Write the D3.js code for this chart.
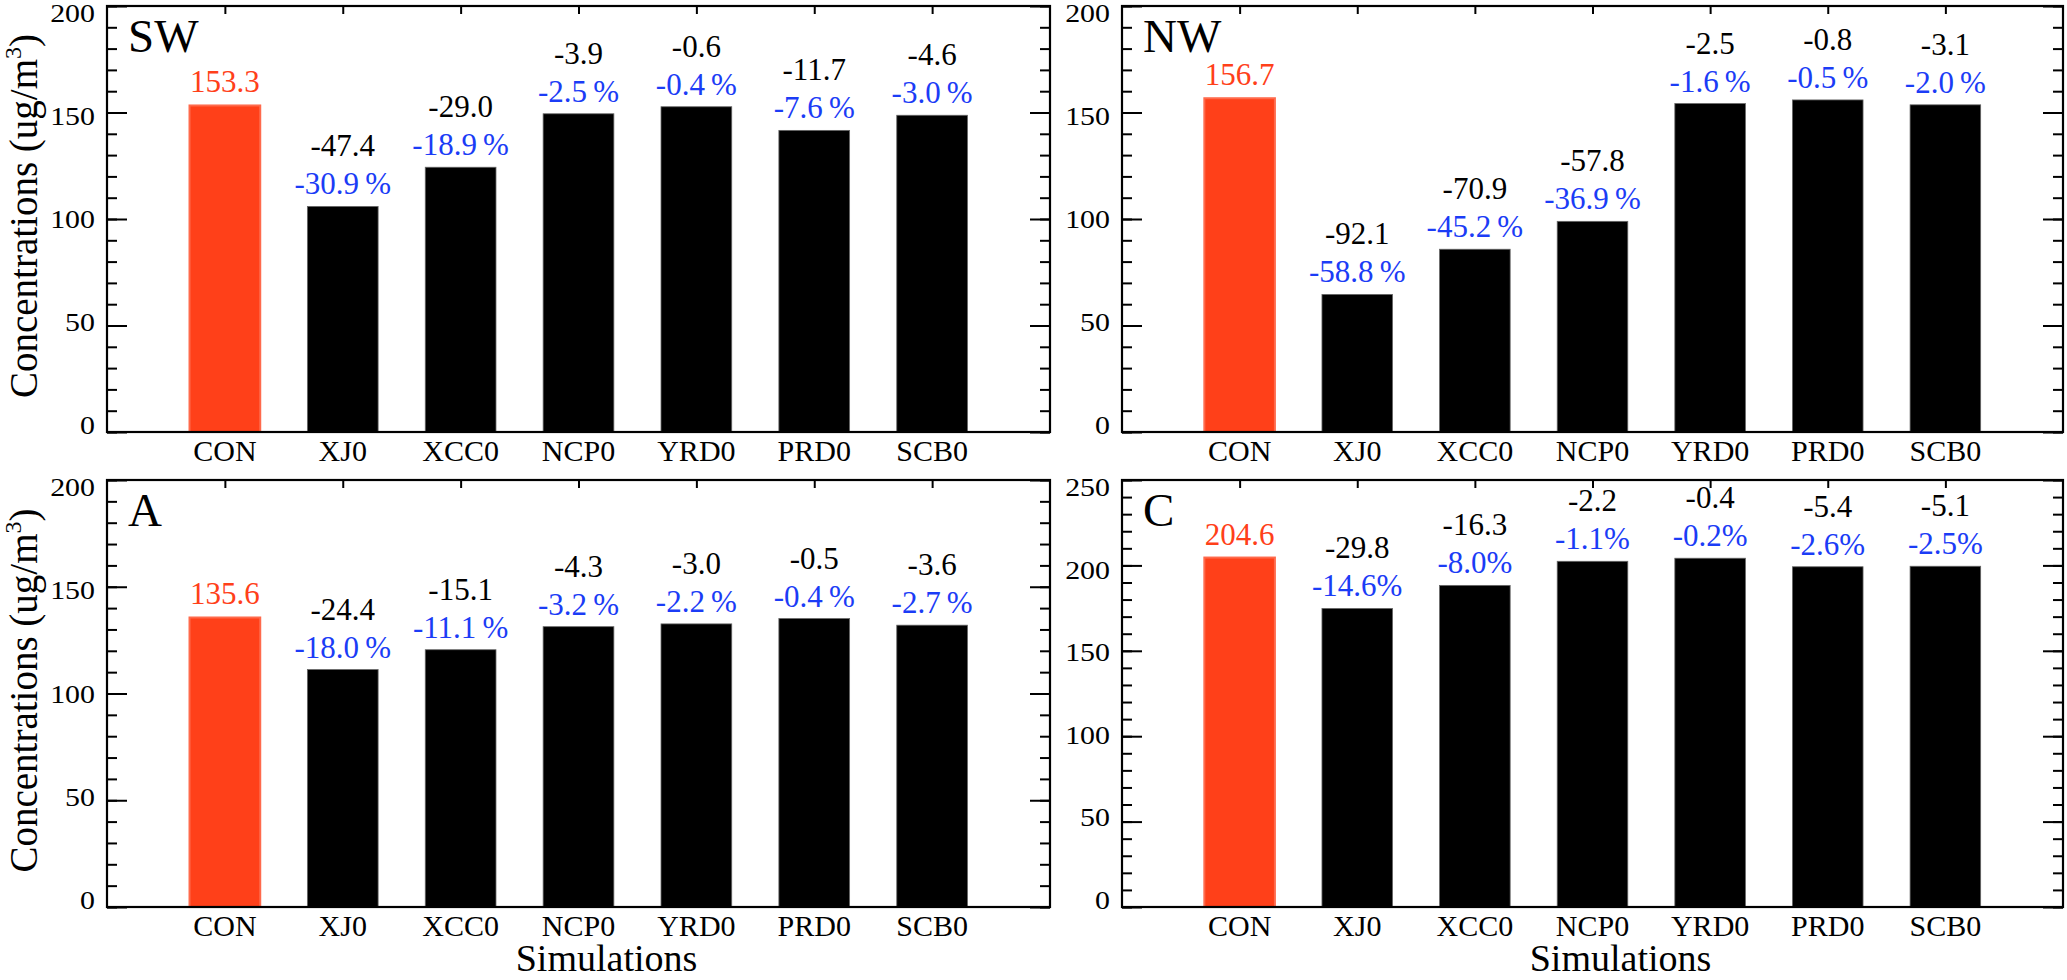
<!DOCTYPE html>
<html>
<head>
<meta charset="utf-8">
<script src="https://cdn.jsdelivr.net/npm/d3@7"></script>
<style>
  html, body { margin: 0; padding: 0; background: #fff; }
  svg { display: block; }
  text { font-family: "Liberation Serif", "Times New Roman", serif; }
</style>
</head>
<body>
<svg id="chart" width="2067" height="980"></svg>
<script>
// simulations on the x axis
const categories = ["CON", "XJ0", "XCC0", "NCP0", "YRD0", "PRD0", "SCB0"];

// bar heights (ug/m3)
const swValues = [153.3, 105.9, 124.3, 149.4, 152.7, 141.6, 148.7];
const nwValues = [156.7, 64.6, 85.8, 98.9, 154.2, 155.9, 153.6];
const aValues  = [135.6, 111.2, 120.5, 131.3, 132.6, 135.1, 132.0];
const cValues  = [204.6, 174.8, 188.3, 202.4, 204.2, 199.2, 199.5];

// changes vs CON, printed above bars
const swDiff = ["-47.4", "-29.0", "-3.9", "-0.6", "-11.7", "-4.6"];
const nwDiff = ["-92.1", "-70.9", "-57.8", "-2.5", "-0.8", "-3.1"];
const aDiff  = ["-24.4", "-15.1", "-4.3", "-3.0", "-0.5", "-3.6"];
const cDiff  = ["-29.8", "-16.3", "-2.2", "-0.4", "-5.4", "-5.1"];

const swPct = ["-30.9", "-18.9", "-2.5", "-0.4", "-7.6", "-3.0"];
const nwPct = ["-58.8", "-45.2", "-36.9", "-1.6", "-0.5", "-2.0"];
const aPct  = ["-18.0", "-11.1", "-3.2", "-2.2", "-0.4", "-2.7"];
const cPct  = ["-14.6", "-8.0", "-1.1", "-0.2", "-2.6", "-2.5"];

// y axis tick labels
const yTicks200 = [0, 50, 100, 150, 200];
const yTicks250 = [0, 50, 100, 150, 200, 250];

const RED = "#ff4019";
const BLUE = "#1b3cf6";
const svg = d3.select("#chart");

function drawPanel(p) {
    const g = svg.append("g");
    const yMax = d3.max(p.ticks);
    const x = d3.scaleLinear().domain([0, categories.length + 1]).range([p.left, p.right]);
    const y = d3.scaleLinear().domain([0, yMax]).range([p.bottom, p.top]);
    // the tick labels sit a little tighter than the ticks in the original
    const yLab = d3.scaleLinear().domain([0, yMax]).range([p.bottom - 7, p.top + 7]);
    const minor = d3.range(0, yMax + 1, 10);
    const catPos = categories.map((c, i) => i + 1);

    // bottom ticks (hidden behind bars mostly)
    g.append("g").attr("transform", `translate(0,${p.bottom})`)
        .call(d3.axisBottom(x).tickValues(catPos).tickSize(-8).tickSizeOuter(0).tickFormat(""));

    // bars
    const bw = x(0.6) - x(0);
    g.selectAll("rect.bar").data(p.values).join("rect")
        .attr("class", "bar")
        .attr("x", (d, i) => x(i + 1) - bw / 2)
        .attr("width", bw)
        .attr("y", d => y(d))
        .attr("height", d => y(0) - y(d))
        .attr("fill", (d, i) => i === 0 ? RED : "#000")
        .attr("stroke", (d, i) => i === 0 ? "#ff6a4c" : "#666")
        .attr("stroke-width", (d, i) => i === 0 ? 2 : 0.8);

    // other axes, ticks inward
    g.append("g").attr("transform", `translate(0,${p.top})`)
        .call(d3.axisTop(x).tickValues(catPos).tickSize(-8).tickSizeOuter(0).tickFormat(""));
    g.append("g").attr("transform", `translate(${p.left},0)`)
        .call(d3.axisLeft(y).tickValues(minor).tickSize(-10).tickSizeOuter(0).tickFormat(""));
    g.append("g").attr("transform", `translate(${p.left},0)`)
        .call(d3.axisLeft(y).tickValues(p.ticks).tickSize(-20).tickSizeOuter(0).tickFormat(""));
    g.append("g").attr("transform", `translate(${p.right},0)`)
        .call(d3.axisRight(y).tickValues(minor).tickSize(-10).tickSizeOuter(0).tickFormat(""));
    g.append("g").attr("transform", `translate(${p.right},0)`)
        .call(d3.axisRight(y).tickValues(p.ticks).tickSize(-20).tickSizeOuter(0).tickFormat(""));
    g.selectAll(".domain").remove();
    g.selectAll(".tick line").attr("stroke", "#000").attr("stroke-width", 2);

    // frame
    g.append("rect")
        .attr("x", p.left).attr("y", p.top)
        .attr("width", p.right - p.left).attr("height", p.bottom - p.top)
        .attr("fill", "none").attr("stroke", "#000").attr("stroke-width", 2.2);

    // y tick labels (slightly wide glyphs like the original)
    g.selectAll("g.ylab").data(p.ticks).join("g")
        .attr("class", "ylab")
        .attr("transform", d => `translate(${p.left - 12},${yLab(d) + 9}) scale(1.15,1)`)
        .append("text")
        .attr("text-anchor", "end")
        .attr("font-size", 26)
        .text(d => d);

    // category labels
    g.selectAll("text.cat").data(categories).join("text")
        .attr("class", "cat")
        .attr("x", (d, i) => x(i + 1))
        .attr("y", p.bottom + 29)
        .attr("text-anchor", "middle")
        .attr("font-size", 30)
        .text(d => d);

    // value labels
    g.append("text")
        .attr("x", x(1)).attr("y", y(p.values[0]) - 13)
        .attr("text-anchor", "middle").attr("font-size", 31)
        .attr("fill", RED)
        .text(p.values[0].toFixed(1));
    const rest = p.values.slice(1);
    g.selectAll("text.diff").data(rest).join("text")
        .attr("class", "diff")
        .attr("x", (d, i) => x(i + 2))
        .attr("y", d => y(d) - 50)
        .attr("text-anchor", "middle").attr("font-size", 31)
        .attr("fill", "#000")
        .text((d, i) => p.diff[i]);
    g.selectAll("text.pct").data(rest).join("text")
        .attr("class", "pct")
        .attr("x", (d, i) => x(i + 2))
        .attr("y", d => y(d) - 12)
        .attr("text-anchor", "middle").attr("font-size", 31)
        .attr("fill", BLUE)
        .text((d, i) => p.pct[i] + p.sep + "%");

    // panel letter
    g.append("text")
        .attr("x", p.left + 21).attr("y", p.top + 46)
        .attr("font-size", 47)
        .text(p.name);

    if (p.yTitle) {
        const t = g.append("text")
            .attr("transform", `translate(37,${(p.top + p.bottom) / 2 - 3}) rotate(-90)`)
            .attr("text-anchor", "middle")
            .attr("font-size", 39);
        t.append("tspan").text("Concentrations (ug/m");
        t.append("tspan").attr("font-size", 24).attr("dy", -16).text("3");
        t.append("tspan").attr("dy", 16).text(")");
    }
    if (p.xTitle) {
        g.append("text")
            .attr("x", (p.left + p.right) / 2 + 28)
            .attr("y", 971)
            .attr("text-anchor", "middle")
            .attr("font-size", 38)
            .text("Simulations");
    }
}

drawPanel({ name: "SW", values: swValues, diff: swDiff, pct: swPct, sep: "\u2009", ticks: yTicks200,
            left: 107, right: 1050, top: 6, bottom: 432, yTitle: true });
drawPanel({ name: "NW", values: nwValues, diff: nwDiff, pct: nwPct, sep: "\u2009", ticks: yTicks200,
            left: 1122, right: 2063, top: 6, bottom: 432 });
drawPanel({ name: "A", values: aValues, diff: aDiff, pct: aPct, sep: "\u2009", ticks: yTicks200,
            left: 107, right: 1050, top: 480, bottom: 907, yTitle: true, xTitle: true });
drawPanel({ name: "C", values: cValues, diff: cDiff, pct: cPct, sep: "", ticks: yTicks250,
            left: 1122, right: 2063, top: 480, bottom: 907, xTitle: true });
</script>
</body>
</html>
